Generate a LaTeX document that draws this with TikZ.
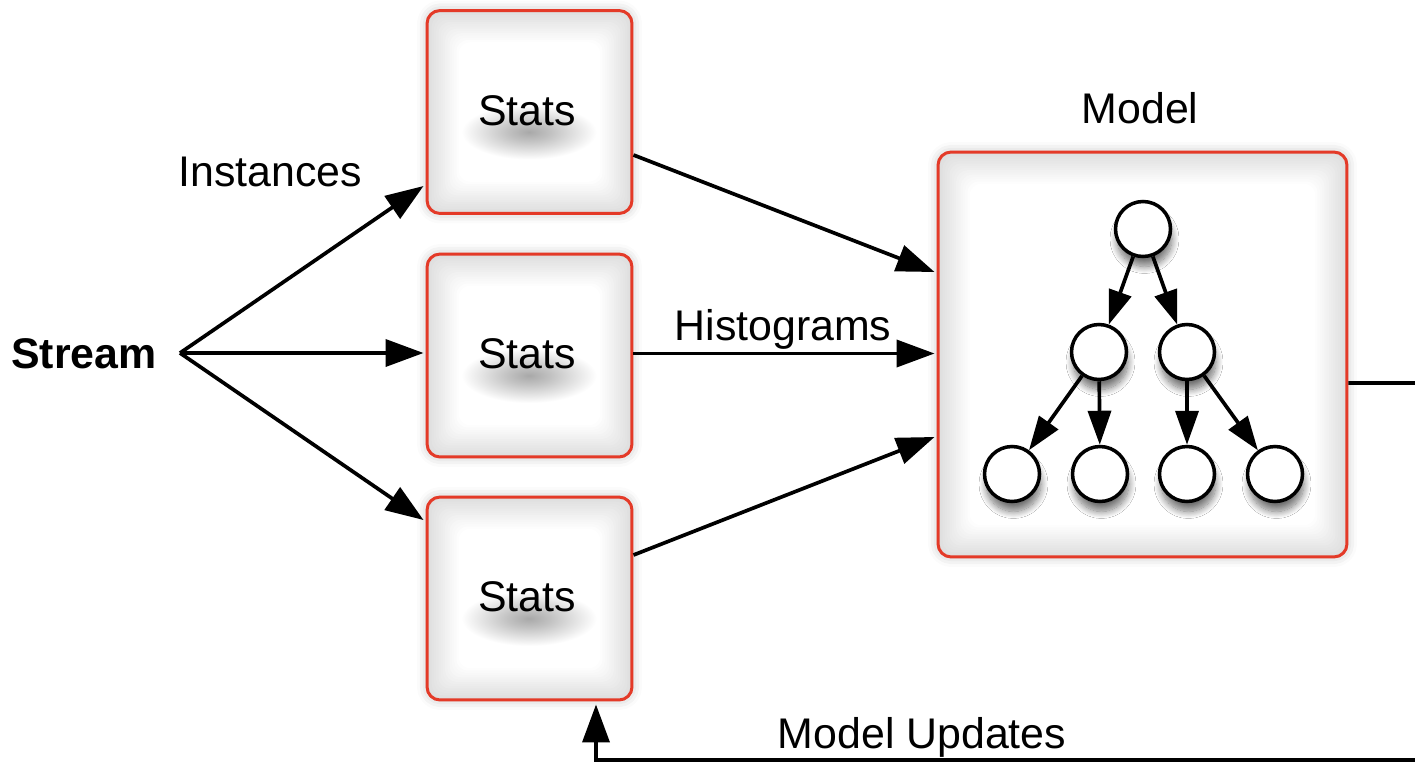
\documentclass[tikz,border=0pt]{standalone}
\usepackage{fontspec}
\setmainfont{Liberation Sans}
\usetikzlibrary{arrows.meta,shadows.blur,calc}
\definecolor{boxred}{RGB}{228,58,40}
\pgfdeclareradialshading{txtshadow}{\pgfpointorigin}{color(0bp)=(black!34); color(8bp)=(black!24); color(25bp)=(white); color(50bp)=(white)}
\tikzset{
 arr/.style={line width=2.1pt, -{Triangle[length=0.76cm,width=0.54cm]}},
 tarr/.style={line width=2.1pt, -{Triangle[length=0.68cm,width=0.46cm]}},
 innerglow/.style={path picture={
   \foreach \i in {0,...,14}{
     \pgfmathsetmacro\c{13*(1-\i/14)}
     \fill[black!\c, rounded corners=0.24cm] ([xshift=\i*0.045cm, yshift=\i*0.045cm]path picture bounding box.south west) rectangle ([xshift=-\i*0.045cm, yshift=-\i*0.045cm]path picture bounding box.north east);
   }}},
 panel/.style={draw=boxred, line width=1.7pt, rounded corners=0.26cm, fill=white, innerglow,
   blur shadow={shadow xshift=0pt, shadow yshift=0pt, shadow blur radius=0.2cm, shadow opacity=25}},
 statsbox/.style={panel, minimum width=4.1cm, minimum height=4.06cm},
 modelbox/.style={panel, minimum width=8.18cm, minimum height=8.1cm},
 lbl/.style={font=\fontsize{24.4}{29}\selectfont, inner sep=0pt, anchor=base},
 tnode/.style={circle, draw=black, line width=2pt, fill=white, minimum size=1.1cm, inner sep=0pt,
   blur shadow={shadow xshift=0.03cm, shadow yshift=-0.2cm, shadow blur radius=0.14cm, shadow blur steps=12, shadow opacity=55}},
}
\begin{document}
\begin{tikzpicture}[x=0.02cm, y=-0.02cm]
\useasboundingbox (0,0) rectangle (1415,764);
\clip (0,0) rectangle (1415,764);

% stats boxes
\node[statsbox] (s1) at (529.5,112) {};
\node[statsbox] (s2) at (529.5,355.5) {};
\node[statsbox] (s3) at (529.5,598.5) {};
\foreach \n/\y in {1/112,2/355.5,3/598.5}{
  \shade[shading=txtshadow] (529,\y+20) ellipse [x radius=1.35cm, y radius=0.55cm];
}
\node[lbl] (t1) at (527,125) {Stats};
\node[lbl] (t2) at (527,368) {Stats};
\node[lbl] (t3) at (527,611) {Stats};

% model box
\node[modelbox] (m) at (1142.5,354.5) {};
\node[lbl] (mlabel) at (1140,123) {Model};

% tree
\node[tnode] (r)  at (1143,229) {};
\node[tnode] (ml) at (1099,352) {};
\node[tnode] (mr) at (1187,352) {};
\node[tnode] (b1) at (1012,474) {};
\node[tnode] (b2) at (1100,474) {};
\node[tnode] (b3) at (1187,474) {};
\node[tnode] (b4) at (1275,474) {};
\draw[tarr] (r) -- (ml);
\draw[tarr] (r) -- (mr);
\draw[tarr] (ml) -- (b1);
\draw[tarr] (ml) -- (b2);
\draw[tarr] (mr) -- (b3);
\draw[tarr] (mr) -- (b4);

% stream
\node[lbl, font=\fontsize{24.4}{29}\selectfont\bfseries] (stream) at (84,368) {Stream};
\coordinate (fan) at (180,353);
\draw[arr] (fan) -- ([xshift=-0.04cm,yshift=-1.48cm]s1.west);
\draw[arr] (fan) -- ([xshift=-0.04cm]fan -| s2.west);
\draw[arr] (fan) -- ([xshift=-0.04cm,yshift=1.57cm]s3.west);
\node[lbl] (inst) at (270,186) {Instances};

% stats to model
\draw[arr] ([yshift=-0.86cm]s1.east) -- ([xshift=-0.04cm,yshift=1.65cm]m.west);
\draw[arr] ([yshift=0.04cm]s2.east) -- ([xshift=-0.04cm,yshift=0.04cm]s2.east -| m.west);
\draw[arr] ([yshift=0.87cm]s3.east) -- ([xshift=-0.04cm,yshift=-1.65cm]m.west);
\node[lbl] (hist) at (783,340) {Histograms};

% feedback
\coordinate (c1) at (1440,383);
\coordinate (c2) at (1440,760);
\coordinate (c3) at (596,760);
\draw[arr] ([yshift=-0.57cm]m.east) -- (c1) -- (c2) -- (c3) -- ([yshift=-0.06cm]c3 |- s3.south);
\node[lbl] (upd) at (922,748) {Model Updates};
\end{tikzpicture}
\end{document}
